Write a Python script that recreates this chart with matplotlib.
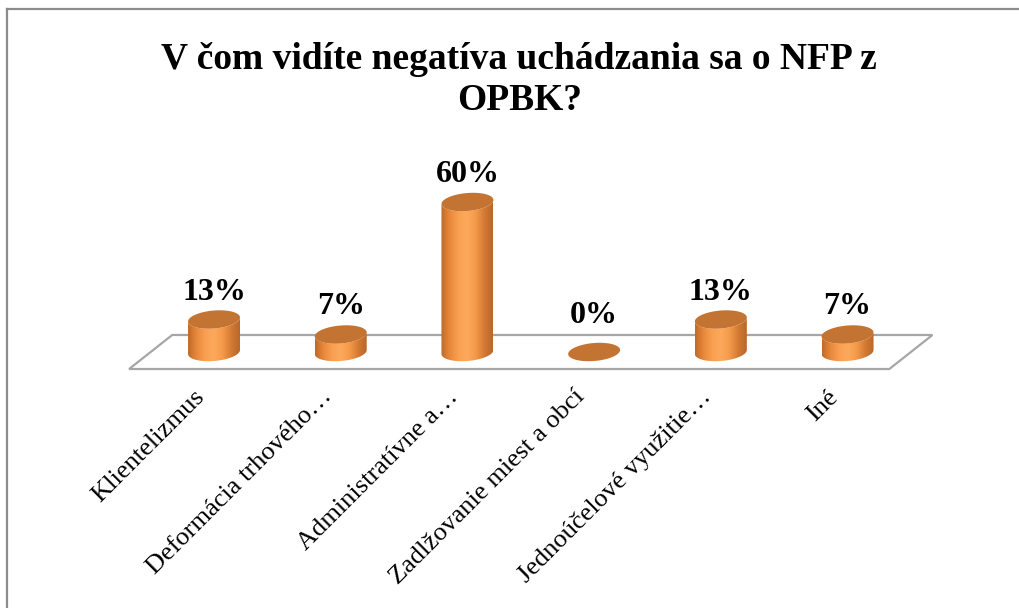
import numpy as np
import matplotlib
matplotlib.use('Agg')
import matplotlib.pyplot as plt
from matplotlib.patches import Polygon
from matplotlib.colors import LinearSegmentedColormap
from matplotlib.lines import Line2D

# data
categories = ['Klientelizmus', 'Deformácia trhového…', 'Administratívne a…',
              'Zadlžovanie miest a obcí', 'Jednoúčelové využitie…', 'Iné']
values = [13, 7, 60, 0, 13, 7]
labels = ['13%', '7%', '60%', '0%', '13%', '7%']
title = 'V čom vidíte negatíva uchádzania sa o NFP z\nOPBK?'

serif = ['Liberation Serif', 'DejaVu Serif']

fig = plt.figure(figsize=(10.2, 6.08), dpi=100)
ax = fig.add_axes([0, 0, 1, 1])
ax.axis('off')

# cylinder shape (x in category units, y in percent)
a = 0.205      # half width
b = 3.6        # half height of ellipse
s = 0.8        # small tilt of ellipses
t = np.linspace(0, 2 * np.pi, 120)

body_cmap = LinearSegmentedColormap.from_list(
    'cyl', ['#c06a28', '#e8893c', '#f9a052', '#fca95c', '#f59a4a', '#d47b34', '#b8662a'])
top_color = '#c47432'

# floor
n = len(categories)
dx, dy = 0.17, 6.8
floor = Polygon([(-0.5 - dx, -dy), (n - 0.5 - dx, -dy), (n - 0.5 + dx, dy), (-0.5 + dx, dy)],
                closed=True, facecolor='white', edgecolor='#a6a6a6', lw=1.6, zorder=1)
ax.add_patch(floor)

grad = np.linspace(0, 1, 200).reshape(1, -1)
for i, v in enumerate(values):
    ex = i + a * np.cos(t)
    if v > 0:
        lower = np.pi + np.linspace(0, np.pi, 60)
        upper = lower[::-1]
        bx = np.concatenate([i + a * np.cos(lower), i + a * np.cos(upper)])
        by = np.concatenate([b * np.sin(lower) + s * np.cos(lower),
                             v + b * np.sin(upper) + s * np.cos(upper)])
        body = Polygon(np.column_stack([bx, by]), closed=True, facecolor='none',
                       edgecolor='none', zorder=2)
        ax.add_patch(body)
        im = ax.imshow(grad, cmap=body_cmap, extent=(i - a, i + a, -b - 2, v + b + 2),
                       aspect='auto', zorder=2, interpolation='bilinear')
        im.set_clip_path(body)
    ey = v + b * np.sin(t) + s * np.cos(t)
    ax.add_patch(Polygon(np.column_stack([ex, ey]), closed=True, facecolor=top_color,
                         edgecolor='none', zorder=3))
    ax.text(i, max(v, 3.5) + 11, labels[i], ha='center', va='center',
            fontsize=23, fontweight='bold', family=serif, zorder=4)
    ax.text(i - 0.1, -16.6, categories[i], rotation=45, rotation_mode='anchor',
            ha='right', va='center', fontsize=19, family=serif)

ax.set_xlim(-1.689, 6.361)
ax.set_ylim(-102.4, 140.8)

fig.text(0.509, 0.868, title, ha='center', va='center', fontsize=27,
         fontweight='bold', family=serif, linespacing=1.22)

# chart border
fig.add_artist(Line2D([7.5 / 1020, 1], [1 - 8.5 / 608, 1 - 8.5 / 608],
                      color='#8c8c8c', lw=1.6, transform=fig.transFigure))
fig.add_artist(Line2D([7.5 / 1020, 7.5 / 1020], [0, 1 - 8.5 / 608],
                      color='#8c8c8c', lw=1.6, transform=fig.transFigure))

fig.savefig('out.png', dpi=100, facecolor='white')
